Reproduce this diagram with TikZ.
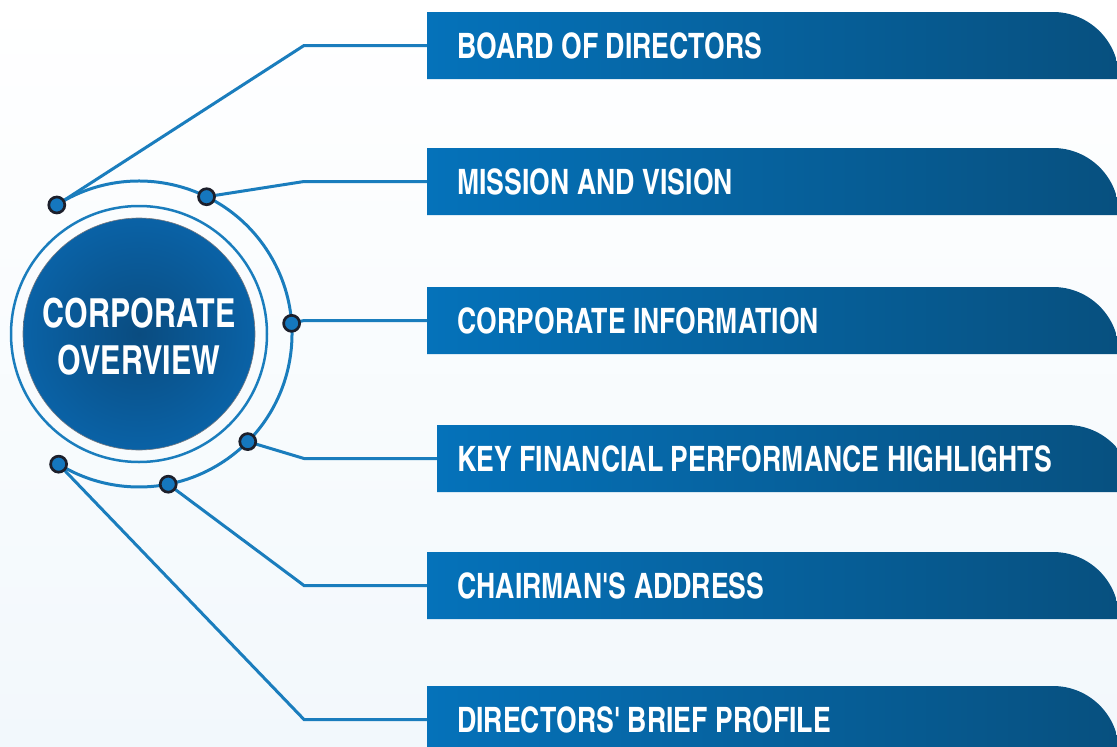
\documentclass[tikz,border=0pt]{standalone}
\usepackage{fontspec}
\newfontfamily\cnfont{TeX Gyre Heros Cn}[FakeStretch=0.93]
\usetikzlibrary{calc}

\definecolor{bgblue}{HTML}{F2F8FC}
\definecolor{linkblue}{HTML}{1A7DBD}
\definecolor{barleft}{HTML}{0572BA}
\definecolor{barright}{HTML}{07507F}
\definecolor{discin}{HTML}{0A4C80}
\definecolor{discout}{HTML}{0A62A6}
\definecolor{dotfill}{HTML}{1577BE}
\definecolor{dotrim}{HTML}{1C1F2B}

\begin{document}
\begin{tikzpicture}[x=1pt, y=-1pt,
    link/.style={linkblue, line width=3pt},
    dot/.style={circle, fill=dotfill, draw=dotrim, line width=2.7pt, minimum size=16pt, inner sep=0pt},
    bartext/.style={anchor=west, minimum height=67pt, inner xsep=30pt, text=white, font=\cnfont\bfseries\fontsize{35}{40}\selectfont}]
    % pale page
    \shade[top color=white, bottom color=bgblue] (0,0) rectangle (1117,747);
    \useasboundingbox (0,0) rectangle (1117,747);
    \clip (0,0) rectangle (1117,747);

    \coordinate (c) at (139,334);
    % centre disc with its thin ring
    \shade[inner color=discin, outer color=discout, draw=dotrim!60, line width=0.6pt] (c) circle (116pt);
    \draw[link, line width=2.5pt] (c) circle (128pt);
    \node[align=center, text=white, font=\cnfont\bfseries\fontsize{40}{47}\selectfont] (title) at ([yshift=-3pt]c) {CORPORATE\\OVERVIEW};

    % outer arc that carries the pins
    \draw[link] ($(c)+(122.5:153pt)$) arc[start angle=122.5, end angle=-121.7, radius=153pt];
    \foreach \i/\a in {1/122.5, 2/63.8, 3/4, 4/-44.7, 5/-79, 6/-121.7}
        \coordinate (d\i) at ($(c)+(\a:153pt)$);

    % banners, rounded at the top right
    \foreach \i/\y/\dx/\txt in {1/45.5/0/BOARD OF DIRECTORS,
                               2/181.5/0/MISSION AND VISION,
                               3/320.5/0/CORPORATE INFORMATION,
                               4/458.5/10/KEY FINANCIAL PERFORMANCE HIGHLIGHTS,
                               5/585.5/0/CHAIRMAN'S ADDRESS,
                               6/719.5/0/DIRECTORS' BRIEF PROFILE}
    {
        \shade[left color=barleft, right color=barright]
            (427+\dx,\y+33.5) -- (427+\dx,\y-33.5) -- (1053+1.4*\dx,\y-33.5)
            arc[start angle=90, end angle=0, radius=66pt] -- (1119+1.4*\dx,\y+33.5) -- cycle;
        \node[bartext, inner xsep=30pt-\dx pt] (b\i) at (427+\dx,\y) {\txt};
    }

    % connectors
    \foreach \i in {1,...,6}
        \draw[link] (d\i) -- (304,0 |- b\i.west) -- (b\i.west);
    \foreach \i in {1,...,6}
        \node[dot] (pin\i) at (d\i) {};
\end{tikzpicture}
\end{document}
